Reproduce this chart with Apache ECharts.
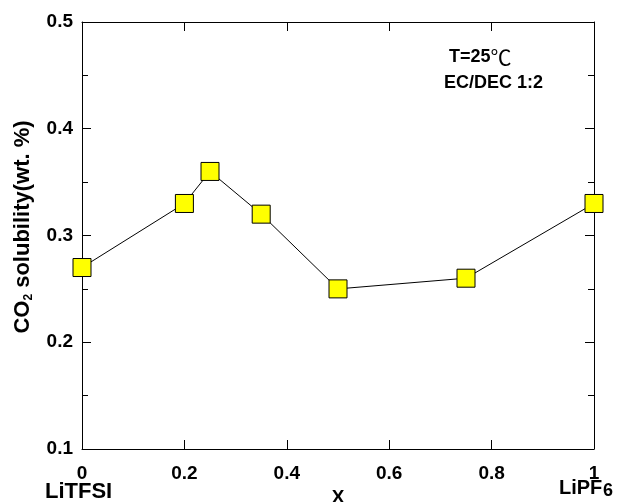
<!DOCTYPE html>
<html><head><meta charset="utf-8">
<script src="https://cdn.jsdelivr.net/npm/echarts@6/dist/echarts.min.js"></script>
<style>html,body{margin:0;padding:0;background:#fff}#c{width:623px;height:502px}</style>
</head><body><div id="c"></div>
<script>
var xValues = [0, 0.2, 0.25, 0.35, 0.5, 0.75, 1.0];
var solubility = [0.27, 0.33, 0.36, 0.32, 0.25, 0.26, 0.33];
var xTicks = [0, 0.2, 0.4, 0.6, 0.8, 1];
var yTicks = [0.1, 0.2, 0.3, 0.4, 0.5];

var font = 'Liberation Sans, Arial, sans-serif';
var chart = echarts.init(document.getElementById('c'), null, {renderer: 'canvas'});
var axisCommon = {
  axisLine: {show: true, onZero: false, lineStyle: {color: '#000', width: 1}},
  splitLine: {show: false}
};
chart.setOption({
  animation: false,
  backgroundColor: '#fff',
  grid: {left: 82, top: 22, right: 29, bottom: 53, containLabel: false, outerBoundsMode: 'none'},
  xAxis: [
    Object.assign({}, axisCommon, {
      type: 'value', min: xTicks[0], max: xTicks[xTicks.length - 1], interval: 0.2, position: 'bottom',
      axisTick: {inside: true, length: 9, lineStyle: {color: '#000'}},
      axisLabel: {color: '#000', fontFamily: font, fontWeight: 'bold', fontSize: 19, margin: 15},
      name: 'X', nameLocation: 'middle', nameGap: 35,
      nameTextStyle: {color: '#000', fontFamily: font, fontWeight: 'bold', fontSize: 19}
    }),
    Object.assign({}, axisCommon, {
      type: 'value', min: 0, max: 1, interval: 0.2, position: 'top',
      axisTick: {inside: true, length: 9, lineStyle: {color: '#000'}},
      axisLabel: {show: false}
    })
  ],
  yAxis: [
    Object.assign({}, axisCommon, {
      type: 'value', min: yTicks[0], max: yTicks[yTicks.length - 1], interval: 0.1, position: 'left',
      axisTick: {inside: true, length: 9, lineStyle: {color: '#000'}},
      minorTick: {show: true, splitNumber: 2, length: 6, lineStyle: {color: '#000'}},
      axisLabel: {color: '#000', fontFamily: font, fontWeight: 'bold', fontSize: 19, margin: 9}
    }),
    Object.assign({}, axisCommon, {
      type: 'value', min: 0.1, max: 0.5, interval: 0.1, position: 'right',
      axisTick: {inside: true, length: 9, lineStyle: {color: '#000'}},
      minorTick: {show: true, splitNumber: 2, length: 6, lineStyle: {color: '#000'}},
      axisLabel: {show: false}
    })
  ],
  series: [{
    type: 'line',
    data: xValues.map(function (x, i) { return [x, solubility[i]]; }),
    symbol: 'rect', symbolSize: 18, clip: false,
    lineStyle: {color: '#000', width: 1},
    itemStyle: {color: '#ffff00', borderColor: '#000', borderWidth: 1},
    z: 5
  }],
  graphic: [
    {type: 'text', x: 23, y: 227, rotation: Math.PI / 2, style: {
      text: '{a|CO}{s|2}{a| solubility(wt. %)}', align: 'center', verticalAlign: 'middle',
      rich: {
        a: {fill: '#000', fontFamily: font, fontWeight: 'bold', fontSize: 22},
        s: {fill: '#000', fontFamily: font, fontWeight: 'bold', fontSize: 12, padding: [12, 0, 0, 0]}
      }
    }},
    {type: 'text', left: 449, top: 47, style: {
      text: '{a|T=25}{c|\u2103}',
      rich: {
        a: {fill: '#000', fontFamily: font, fontWeight: 'bold', fontSize: 18},
        c: {fill: '#000', fontFamily: 'Noto Sans CJK SC, sans-serif', fontWeight: 'normal', fontSize: 21}
      }
    }},
    {type: 'text', left: 444, top: 74, style: {text: 'EC/DEC 1:2', fill: '#000', font: 'bold 18px ' + font}},
    {type: 'text', left: 45, top: 481, style: {text: 'LiTFSI', fill: '#000', font: 'bold 22px ' + font}},
    {type: 'text', left: 559, top: 478, style: {text: 'LiPF', fill: '#000', font: 'bold 20px ' + font}},
    {type: 'text', left: 603, top: 482, style: {text: '6', fill: '#000', font: 'bold 18px ' + font}}
  ]
});
</script></body></html>
